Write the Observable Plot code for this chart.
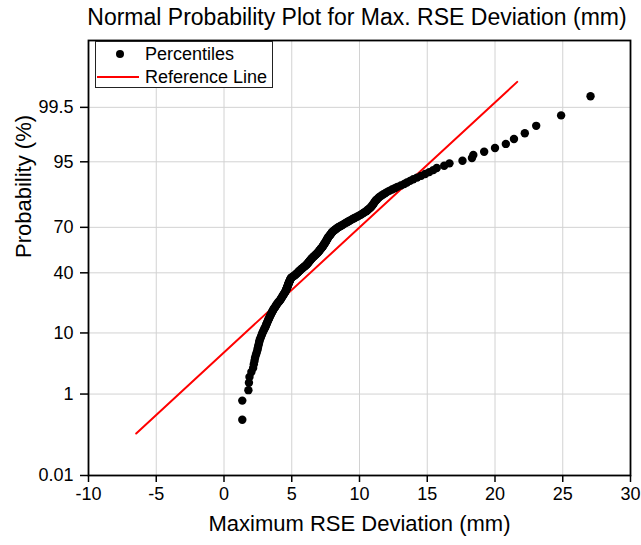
<!DOCTYPE html>
<html><head><meta charset="utf-8">
<script src="https://cdn.jsdelivr.net/npm/d3@7"></script>
<script src="https://cdn.jsdelivr.net/npm/@observablehq/plot@0.6"></script>
<style>
html,body{margin:0;padding:0;background:#fff;}
#wrap{position:relative;width:641px;height:545px;font-family:"Liberation Sans",Arial,sans-serif;color:#000;}
#title{position:absolute;left:86px;top:0;width:542px;height:34px;line-height:34px;text-align:center;font-size:23px;white-space:nowrap;}
#chart{position:absolute;left:0;top:34px;}
#chart svg{display:block;}
#legend{position:absolute;left:95px;top:41px;width:176px;height:45px;background:#fff;border:1px solid #222;}
#legend svg{display:block;}
</style></head><body>
<div id="wrap">
  <div id="title">Normal Probability Plot for Max. RSE Deviation (mm)</div>
  <div id="chart"></div>
  <div id="legend"></div>
</div>
<script>
// Sorted maximum RSE deviations (mm) (n = 220)
const deviation = [
  1.35,1.35,1.80,1.84,1.88,2.02,2.15,2.20,2.25,2.29,
  2.35,2.41,2.46,2.50,2.53,2.57,2.60,2.63,2.68,2.73,
  2.78,2.82,2.87,2.92,2.97,3.02,3.07,3.11,3.14,3.18,
  3.22,3.26,3.30,3.34,3.37,3.41,3.45,3.49,3.53,3.57,
  3.61,3.65,3.69,3.74,3.79,3.83,3.87,3.92,3.97,4.02,
  4.08,4.13,4.18,4.21,4.25,4.29,4.33,4.36,4.40,4.44,
  4.47,4.51,4.55,4.57,4.59,4.61,4.64,4.66,4.68,4.70,
  4.72,4.74,4.76,4.78,4.81,4.83,4.85,4.87,4.90,4.92,
  4.94,5.01,5.08,5.15,5.22,5.29,5.35,5.40,5.45,5.50,
  5.54,5.60,5.66,5.71,5.77,5.83,5.89,5.95,6.01,6.07,
  6.12,6.16,6.20,6.24,6.28,6.32,6.36,6.40,6.44,6.48,
  6.53,6.58,6.63,6.69,6.74,6.79,6.84,6.89,6.94,6.98,
  7.02,7.06,7.10,7.14,7.18,7.22,7.26,7.30,7.33,7.36,
  7.39,7.42,7.46,7.49,7.52,7.55,7.58,7.61,7.63,7.66,
  7.70,7.74,7.78,7.82,7.86,7.90,7.94,7.98,8.03,8.10,
  8.17,8.24,8.31,8.38,8.47,8.57,8.67,8.77,8.87,8.97,
  9.07,9.17,9.27,9.38,9.49,9.60,9.72,9.85,9.97,10.09,
  10.19,10.29,10.39,10.50,10.58,10.66,10.74,10.82,10.88,10.94,
  11.00,11.05,11.10,11.15,11.22,11.30,11.39,11.47,11.60,11.74,
  11.88,12.02,12.20,12.40,12.60,12.80,13.05,13.30,13.50,13.73,
  13.97,14.25,14.55,14.85,15.15,15.45,15.70,16.25,16.64,17.60,
  18.30,18.40,19.20,20.00,20.80,21.40,22.20,23.04,24.88,27.05
];
// Reference line end points (x in mm, probability in %)
const refLineX = [-6.48, 21.64];
const refLineP = [0.135, 99.87];
// Axis ticks
const probTicks = [0.01, 1, 10, 40, 70, 95, 99.5];
const xTicks = [-10, -5, 0, 5, 10, 15, 20, 25, 30];
const xDomain = [-10, 30];
const probDomain = [0.01, 99.99];

// inverse normal CDF (probability-paper transform)
function probit(p){
  const a=[-3.969683028665376e+01,2.209460984245205e+02,-2.759285104469687e+02,1.383577518672690e+02,-3.066479806614716e+01,2.506628277459239e+00];
  const b=[-5.447609879822406e+01,1.615858368580409e+02,-1.556989798598866e+02,6.680131188771972e+01,-1.328068155288572e+01];
  const c=[-7.784894002430293e-03,-3.223964580411365e-01,-2.400758277161838e+00,-2.549671348433266e+00,4.374664141464968e+00,2.938163982698783e+00];
  const d=[7.784695709041462e-03,3.224671290700398e-01,2.445134137142996e+00,3.754408661907416e+00];
  const pl=0.02425, ph=1-pl;
  let q, r;
  if (p < pl) { q=Math.sqrt(-2*Math.log(p)); return (((((c[0]*q+c[1])*q+c[2])*q+c[3])*q+c[4])*q+c[5])/((((d[0]*q+d[1])*q+d[2])*q+d[3])*q+1); }
  if (p > ph) { q=Math.sqrt(-2*Math.log(1-p)); return -(((((c[0]*q+c[1])*q+c[2])*q+c[3])*q+c[4])*q+c[5])/((((d[0]*q+d[1])*q+d[2])*q+d[3])*q+1); }
  q=p-0.5; r=q*q;
  return (((((a[0]*r+a[1])*r+a[2])*r+a[3])*r+a[4])*r+a[5])*q/(((((b[0]*r+b[1])*r+b[2])*r+b[3])*r+b[4])*r+1);
}
const zOf = pct => probit(pct/100);

const n = deviation.length;
const points = deviation.map((x, i) => ({x, p: 100*(i + 1 - 0.375)/(n + 0.25)}));
const refLine = refLineX.map((x, i) => ({x, p: refLineP[i]}));
const tickZ = probTicks.map(zOf);
const tickLabel = new Map(tickZ.map((z, i) => [z, String(probTicks[i])]));
const font = "Liberation Sans, Arial, sans-serif";

const chart = Plot.plot({
  width: 641,
  height: 511,
  marginLeft: 88,
  marginRight: 11,
  marginTop: 6,
  marginBottom: 70,
  style: {fontFamily: font, fontSize: "18px", color: "#000", background: "#fff", overflow: "visible"},
  x: {domain: xDomain},
  y: {domain: probDomain.map(zOf)},
  marks: [
    Plot.gridX(xTicks, {stroke: "#d2d2d2", strokeOpacity: 1, strokeWidth: 1}),
    Plot.gridY(tickZ, {stroke: "#d2d2d2", strokeOpacity: 1, strokeWidth: 1}),
    Plot.axisX(xTicks, {label: null, tickSize: 7, tickPadding: 5, strokeWidth: 1.5, fontSize: 18, tickFormat: d => String(d)}),
    Plot.axisY(tickZ, {label: null, tickSize: 8, tickPadding: 7, strokeWidth: 1.5, fontSize: 18, tickFormat: z => tickLabel.get(z)}),
    Plot.line(refLine, {x: "x", y: d => zOf(d.p), stroke: "#ff0000", strokeWidth: 2}),
    Plot.dot(points, {x: "x", y: d => zOf(d.p), r: 4.2, fill: "#000", stroke: "none"}),
    Plot.frame({stroke: "#000", strokeWidth: 1.8}),
    Plot.text(["Maximum RSE Deviation (mm)"], {frameAnchor: "bottom", dy: 55, fontSize: 22}),
    Plot.text(["Probability (%)"], {frameAnchor: "left", dx: -65, rotate: -90, fontSize: 22})
  ]
});
document.getElementById("chart").appendChild(chart);

// Legend
const lg = d3.select("#legend").append("svg").attr("width", 176).attr("height", 45)
  .style("font-family", font).style("font-size", "18px");
lg.append("circle").attr("cx", 24).attr("cy", 12).attr("r", 4).attr("fill", "#000");
lg.append("text").attr("x", 49).attr("y", 18).text("Percentiles");
lg.append("line").attr("x1", 1).attr("x2", 43).attr("y1", 35).attr("y2", 35).attr("stroke", "#ff0000").attr("stroke-width", 2);
lg.append("text").attr("x", 49).attr("y", 41).text("Reference Line");
</script>
</body></html>
